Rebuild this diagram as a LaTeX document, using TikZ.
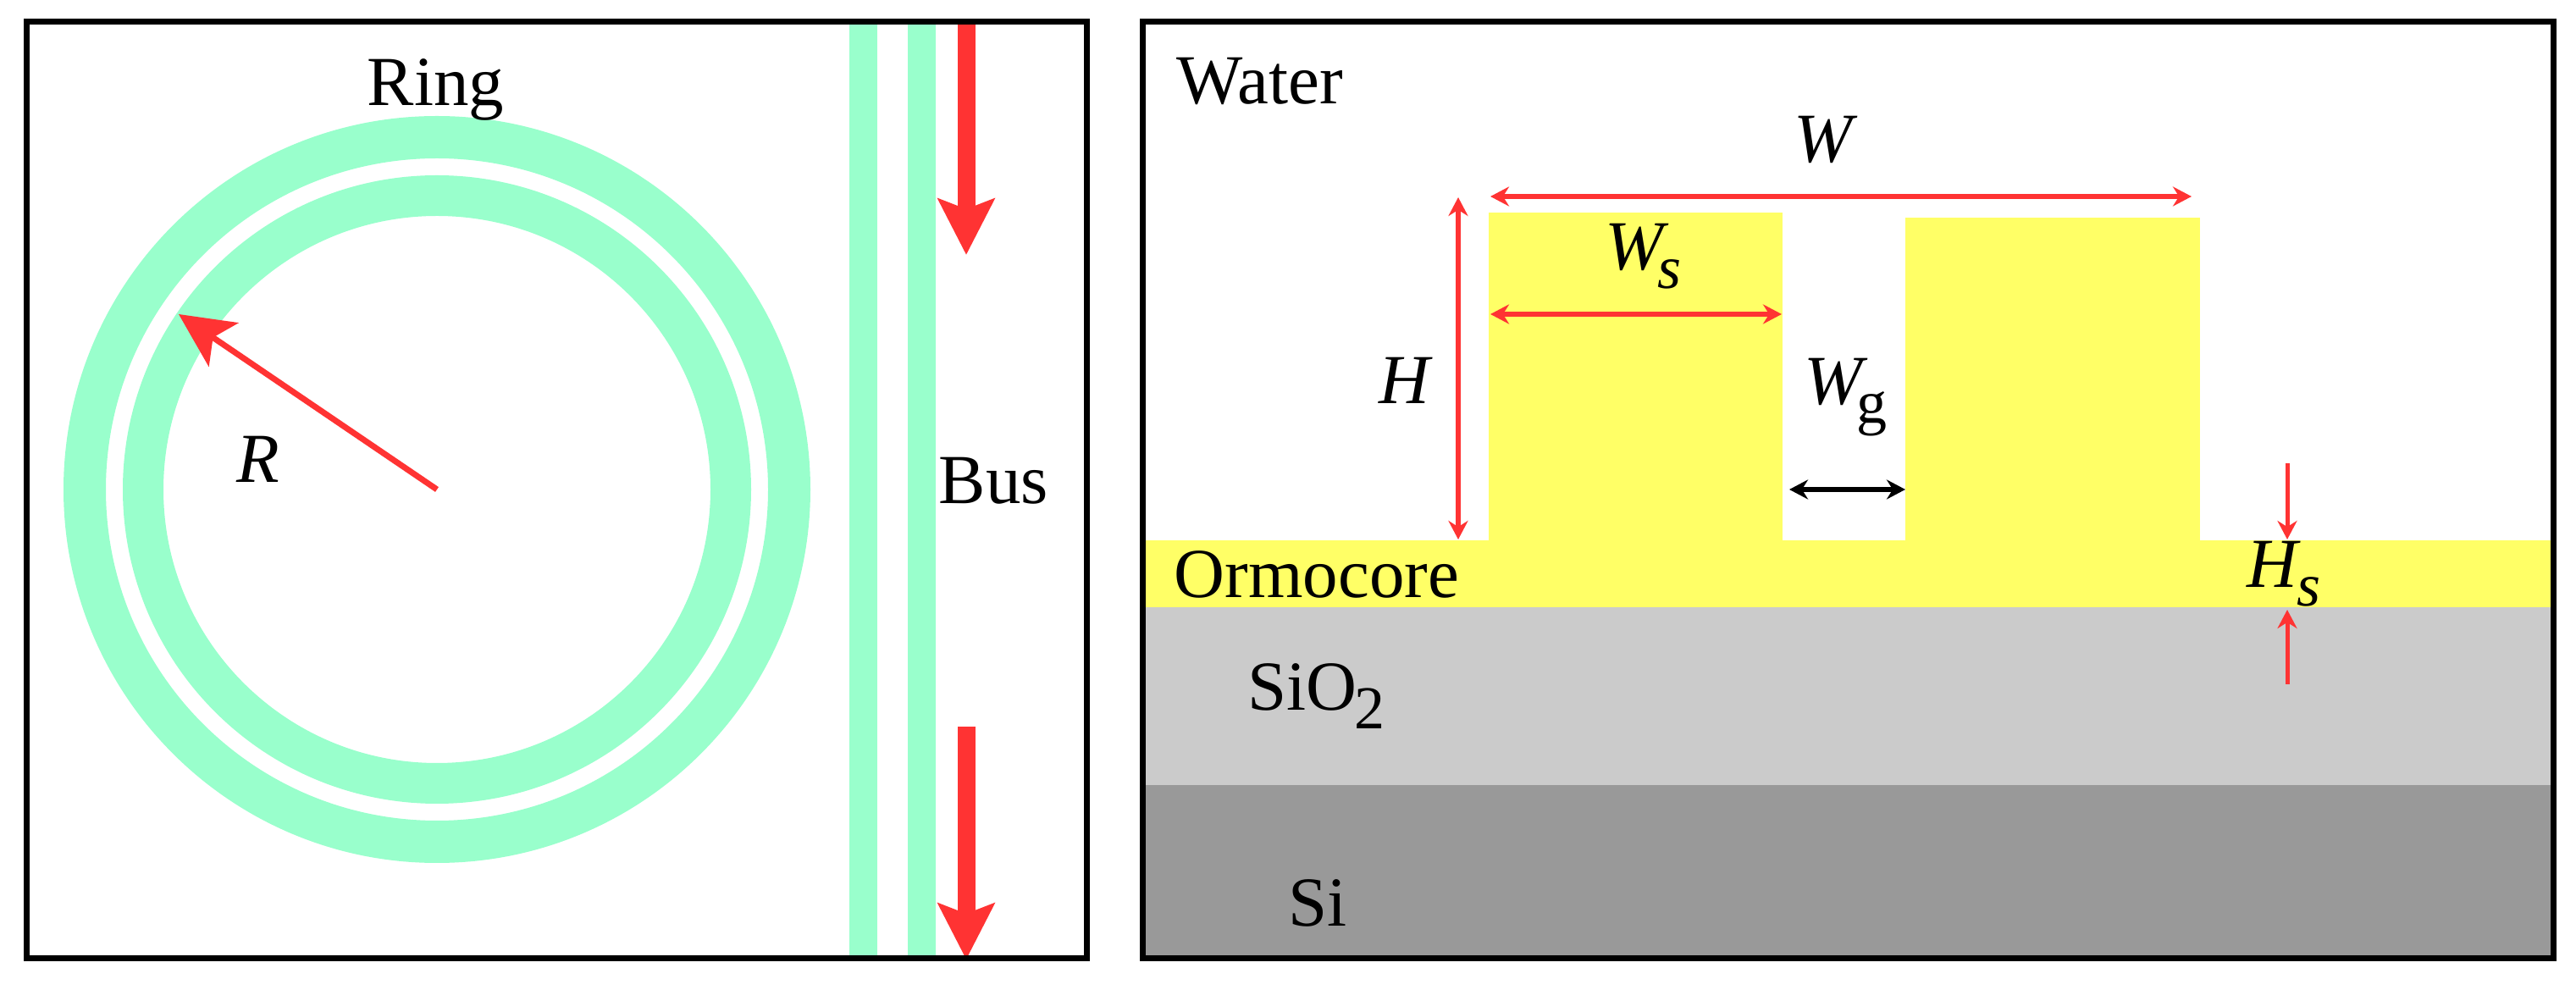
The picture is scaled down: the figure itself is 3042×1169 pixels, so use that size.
\documentclass[tikz,border=0pt]{standalone}
\usepackage{fontspec}
\setmainfont{Liberation Serif}
\usetikzlibrary{arrows.meta}
\definecolor{ringgreen}{HTML}{99FFCC}
\definecolor{arrowred}{HTML}{FF3333}
\definecolor{coreyellow}{HTML}{FFFF66}
\definecolor{oxidegray}{HTML}{CBCBCB}
\definecolor{silicongray}{HTML}{999999}
\newcommand{\lowtext}[1]{\raisebox{-6.2pt}{\fontsize{20.5}{22}\selectfont #1}}

\begin{document}
\begin{tikzpicture}[x=0.1mm,y=-0.1mm]
  \tikzstyle{frame}=[draw=black,line width=0.7mm]
  \tikzstyle{label}=[inner sep=0pt,anchor=base west,font=\fontsize{23.6}{28}\selectfont]
  \tikzstyle{bigflow}=[arrowred,line width=2.1mm,-{Stealth[length=6.6mm,width=6.6mm,inset=1.2mm]}]
  \tikzstyle{radius}=[arrowred,line width=0.7mm,-{Stealth[length=6.4mm,width=6.2mm,inset=1.5mm]}]
  \tikzstyle{dimred}=[arrowred,line width=0.6mm,{Stealth[length=2.2mm,width=2.3mm]}-{Stealth[length=2.2mm,width=2.3mm]}]
  \tikzstyle{dimblack}=[black,line width=0.6mm,{Stealth[length=2.2mm,width=2.3mm]}-{Stealth[length=2.2mm,width=2.3mm]}]
  \tikzstyle{pointer}=[arrowred,line width=0.5mm,-{Stealth[length=2.2mm,width=2.3mm]}]

  \useasboundingbox (0,0) rectangle (3042,1169);

  % left panel
  \coordinate (C) at (516,578);
  \draw[ringgreen,line width=5mm] (C) circle (416);
  \draw[ringgreen,line width=4.8mm] (C) circle (347);
  \fill[ringgreen] (1003,28) rectangle (1036,1131);
  \fill[ringgreen] (1072,28) rectangle (1105,1131);

  \coordinate (flow1a) at (1141,28);
  \coordinate (flow1b) at (1141,301);
  \coordinate (flow2a) at (1141,858);
  \coordinate (flow2b) at (1141,1133);
  \draw[bigflow] (flow1a) -- (flow1b);
  \draw[bigflow] (flow2a) -- (flow2b);
  \coordinate (Rtip) at (211,371);
  \draw[radius] (C) -- (Rtip);

  \node[label] (ring) at (433,125) {Ring};
  \node[label] (bus) at (1108,595) {Bus};
  \node[label] (rad) at (279,570) {\textit{R}};
  \node[frame,minimum width=125.2mm,minimum height=110.6mm,outer sep=0pt,anchor=north west] (left) at (31,26) {};

  % right panel
  \fill[silicongray] (1349,927) rectangle (3015,1133);
  \fill[oxidegray] (1349,717) rectangle (3015,927);
  \fill[coreyellow] (1349,638) rectangle (3015,717);
  \fill[coreyellow] (1758,251) rectangle (2105,638);
  \fill[coreyellow] (2250,257) rectangle (2598,638);

  \coordinate (Wa) at (1760,232);
  \coordinate (Wb) at (2588,232);
  \coordinate (Wsa) at (1760,371);
  \coordinate (Wsb) at (2104,371);
  \coordinate (Ha) at (1722,233);
  \coordinate (Hb) at (1722,637);
  \coordinate (Wga) at (2113,578);
  \coordinate (Wgb) at (2250,578);
  \coordinate (Hsa) at (2701,547);
  \coordinate (Hsb) at (2701,637);
  \coordinate (Hsc) at (2701,808);
  \coordinate (Hsd) at (2701,720);
  \draw[dimred] (Wa) -- (Wb);
  \draw[dimred] (Wsa) -- (Wsb);
  \draw[dimred] (Ha) -- (Hb);
  \draw[dimblack] (Wga) -- (Wgb);
  \draw[pointer] (Hsa) -- (Hsb);
  \draw[pointer] (Hsc) -- (Hsd);

  \node[label] (water) at (1389,123) {Water};
  \node[label,anchor=base] (wtot) at (2156,192) {\textit{W}};
  \node[label] (ws) at (1895,319) {\textit{W}\kern-4pt\lowtext{\textit{s}}};
  \node[label] (hgt) at (1628,477) {\textit{H}};
  \node[label] (wg) at (2130,478) {\textit{W}\kern-4pt\lowtext{g}};
  \node[label] (hs) at (2653,694) {\textit{H}\kern-1.5pt\lowtext{\textit{s}}};
  \node[label] (ormo) at (1386,706) {Ormocore};
  \node[label] (sio) at (1473,839) {SiO\kern-1pt\lowtext{2}};
  \node[label] (si) at (1521,1094) {Si};
  \node[frame,minimum width=166.6mm,minimum height=110.6mm,outer sep=0pt,anchor=north west] (right) at (1349,26) {};
\end{tikzpicture}
\end{document}
